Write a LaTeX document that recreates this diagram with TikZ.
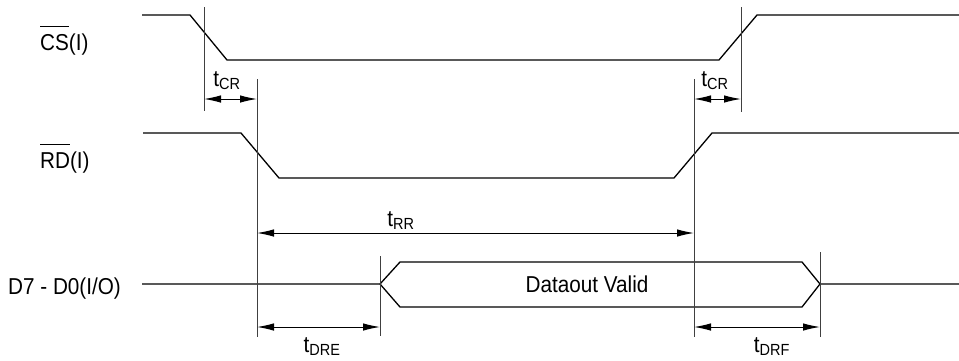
\documentclass[tikz,border=0pt]{standalone}
\usepackage{fontspec}
\setmainfont{Liberation Sans}[FakeStretch=0.9]
\usetikzlibrary{arrows.meta}

% active-low signal name: bar over the letters only
\newlength\sigwd
\newcommand\negsig[1]{\settowidth\sigwd{#1}\rlap{\rule[1.0em]{\sigwd}{1.1pt}}#1}
\newcommand\tsub[1]{t\textsubscript{#1}}

\tikzset{
  wave/.style={black, line width=1.3pt},
  markline/.style={black!75, line width=1pt},
  dim/.style={black, line width=1pt,
    {Latex[length=17pt,width=7.5pt]}-{Latex[length=17pt,width=7.5pt]}},
  signame/.style={anchor=base west, inner sep=0pt, font=\fontsize{23}{28}\selectfont},
  tlabel/.style={anchor=base, inner sep=0pt, font=\fontsize{23}{28}\selectfont},
}

\begin{document}
\begin{tikzpicture}[x=1pt, y=-1pt]
            \useasboundingbox (0,0) rectangle (959,360);
            % signal names
            \node[signame] (cs) at ( 40, 50) {\negsig{CS}(I)};
            \node[signame] (rd) at ( 40,168) {\negsig{RD}(I)};
            \node[signame] (db) at (  8,294) {D7 - D0(I/O)};

            % waveforms
            \draw[wave] (142, 15) -- (190, 15) -- (227, 60) -- (719, 60) -- (757, 15) -- (959, 15);
            \draw[wave] (143,133) -- (241,133) -- (279,178) -- (674,178) -- (712,133) -- (959,133);
            \draw[wave] (142,284) -- (380,284) -- (400,262) -- (802,262) -- (820,284) -- (959,284);
            \draw[wave] (380,284) -- (400,307) -- (802,307) -- (820,284);
            \node[tlabel] (valid) at (587,292) {Dataout Valid};

            % timing reference lines
            \foreach \x/\ya/\yb in {204/7/111, 257/79/337, 694/79/337, 741/7/112, 380/256/336, 820/252/337}
                \draw[markline] (\x,\ya) -- (\x,\yb);

            % dimension ends
            \coordinate (cra) at (204, 99);  \coordinate (crb) at (257, 99);
            \coordinate (crc) at (694, 99);  \coordinate (crd) at (741, 99);
            \coordinate (rra) at (257,233);  \coordinate (rrb) at (694,233);
            \coordinate (dea) at (257,327);  \coordinate (deb) at (380,327);
            \coordinate (dfa) at (694,327);  \coordinate (dfb) at (820,327);

            \draw[dim] (cra) -- (crb);
            \draw[dim] (crc) -- (crd);
            \draw[dim] (rra) -- (rrb);
            \draw[dim] (dea) -- (deb);
            \draw[dim] (dfa) -- (dfb);

            % timing labels
            \node[tlabel] (tcr1) at (227, 86) {\tsub{CR}};
            \node[tlabel] (tcr2) at (715, 86) {\tsub{CR}};
            \node[tlabel] (trr)  at (401,226) {\tsub{RR}};
            \node[tlabel] (tdre) at (322,352) {\tsub{DRE}};
            \node[tlabel] (tdrf) at (772,352) {\tsub{DRF}};
\end{tikzpicture}
\end{document}
